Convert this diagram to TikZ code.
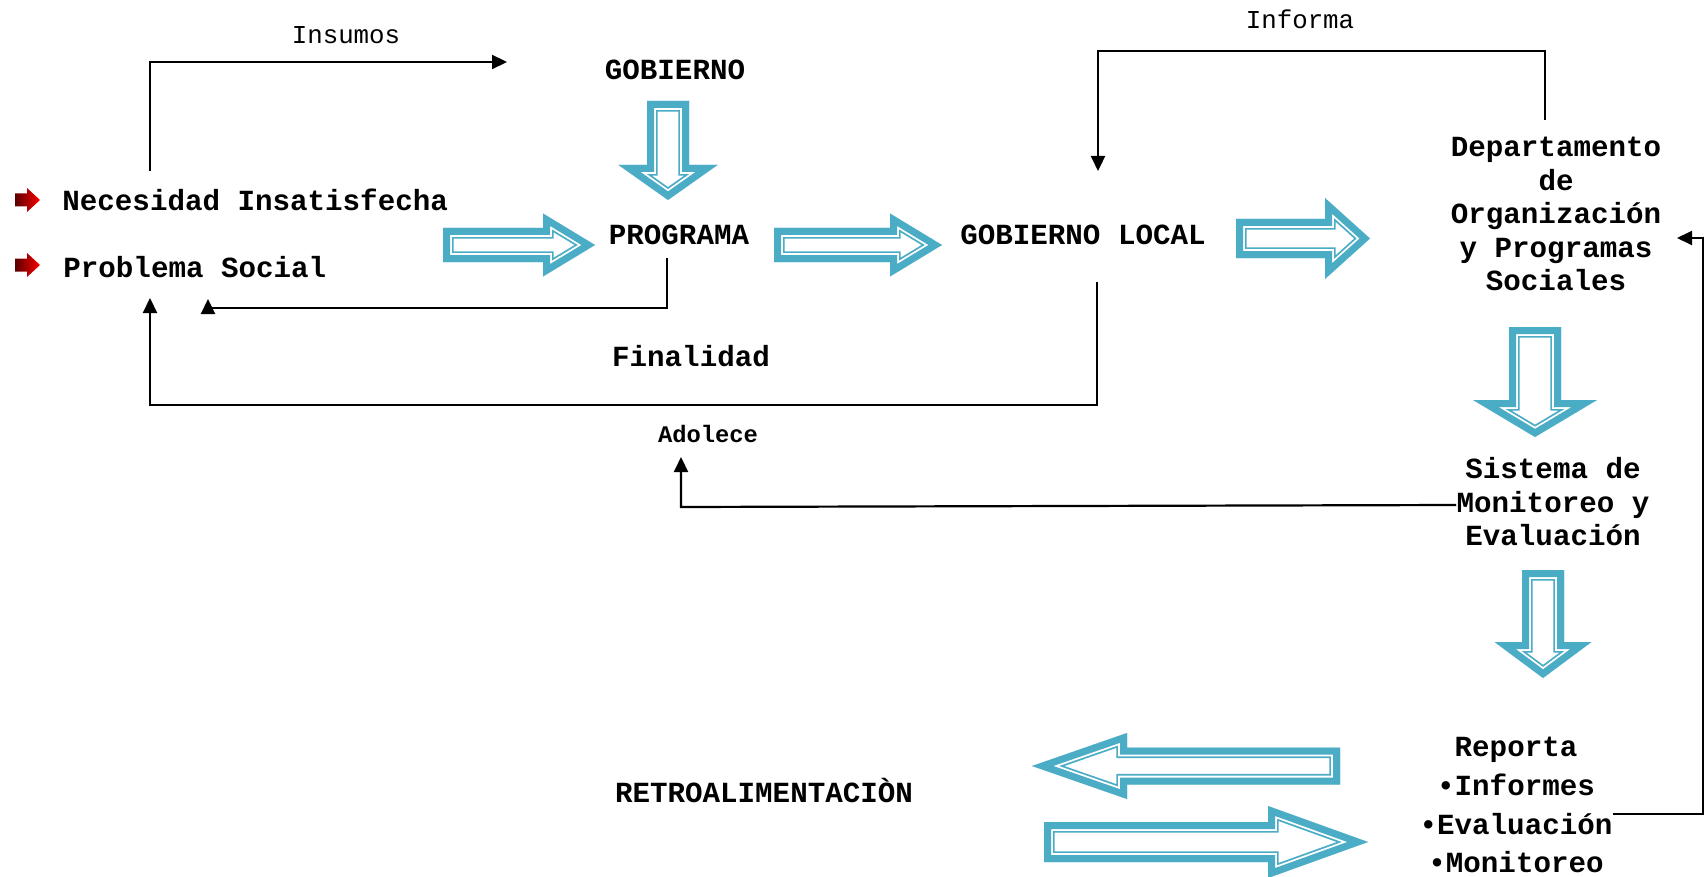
\documentclass[tikz,border=0pt]{standalone}
\usepackage{fontspec}
\setmainfont{Liberation Mono}
\usetikzlibrary{positioning, arrows.meta}
\definecolor{arrowblue}{RGB}{75,172,198}
% hollow block arrow: tail centre, angle, length, body half width, head half width, head length
\newcommand{\blockarrow}[6]{%
  \begin{scope}[shift={#1},rotate=#2]
    \clip (0,-#4) -- (#3-#6,-#4) -- (#3-#6,-#5) -- (#3,0)
      -- (#3-#6,#5) -- (#3-#6,#4) -- (0,#4) -- cycle;
    \fill[white] (-5,-#5-5) rectangle (#3+5,#5+5);
    \foreach \lw/\col in {10.6pt/arrowblue, 8.8pt/white, 7pt/arrowblue}
      \path[draw=\col,line width=\lw] (0,-#4) -- (#3-#6,-#4) -- (#3-#6,-#5) -- (#3,0)
        -- (#3-#6,#5) -- (#3-#6,#4) -- (0,#4) -- cycle;
  \end{scope}}

\begin{document}
\begin{tikzpicture}[x=0.5pt,y=-0.5pt,node distance=4.5pt,
  txt/.style={font=\bfseries\fontsize{14.6}{16.75}\selectfont,inner sep=0pt,text height=11pt,text depth=3.5pt},
  blk/.style={font=\bfseries\fontsize{14.6}{16.75}\selectfont,inner sep=0pt,align=center},
  lbl/.style={font=\fontsize{12.9}{15}\selectfont,inner sep=0pt},
  conn/.style={line width=1.1pt,-{Triangle[length=7.5pt,width=7pt]}}]
   \useasboundingbox (0,0) rectangle (1706,877);
   % red bullets
   \foreach \yy in {200,265}
     \shade[left color=red!35!black,right color=red] (15,\yy-6.5) -- (27,\yy-6.5) -- (27,\yy-12)
       -- (40,\yy) -- (27,\yy+12) -- (27,\yy+6.5) -- (15,\yy+6.5) -- cycle;
   % texts
   \node[txt,anchor=west] (nec)    at (62,203)   {Necesidad Insatisfecha};
   \node[txt,anchor=west] (prob)   at (63,270)   {Problema Social};
   \node[txt]             (gob)    at (675,72)   {GOBIERNO};
   \node[txt]             (prog)   at (679,237)  {PROGRAMA};
   \node[txt]             (gobloc) at (1083,237) {GOBIERNO LOCAL};
   \node[blk]             (dep)    at (1556,214) {Departamento\\de\\Organización\\y Programas\\Sociales};
   \node[txt]             (fin)    at (691,359)  {Finalidad};
   \node[txt,font=\bfseries\fontsize{11.9}{14}\selectfont] (adol) at (708,435) {Adolece};
   \node[blk]             (sis)    at (1553,502) {Sistema de\\Monitoreo y\\Evaluación};
   \node[txt]             (rep)    at (1516,749) {Reporta};
   \node[txt,below=of rep] (inf)   {•Informes};
   \node[txt,below=of inf] (eva)   {•Evaluación};
   \node[txt,below=of eva] (mon)   {•Monitoreo};
   \node[txt]             (retro)  at (764,795)  {RETROALIMENTACIÒN};
   \node[lbl]             (insumos) at (346,35)  {Insumos};
   \node[lbl]             (informa) at (1300,19) {Informa};
   % block arrows
   \blockarrow{(443,245)}{0}{152}{17}{31.5}{52}
   \blockarrow{(774,245)}{0}{168}{17}{31.5}{52}
   \blockarrow{(1236,238.5)}{0}{134}{19.5}{40.5}{45}
   \blockarrow{(668,101)}{-90}{99}{21}{49.5}{35}
   \blockarrow{(1535,327)}{-90}{110}{26}{62}{37}
   \blockarrow{(1543,570)}{-90}{108}{21}{48.5}{36}
   \blockarrow{(1340,766)}{180}{308}{18.5}{33}{95}
   \blockarrow{(1044,842)}{0}{324}{20}{36}{100}
   % connectors
   \coordinate (ins0)  at (150,171);
   \coordinate (ins1)  at (507,62);
   \coordinate (fin0)  at (667,308);
   \coordinate (fin1)  at (208,299);
   \coordinate (adl1)  at (150,298);
   \coordinate (infm1) at (1098,171);
   \coordinate (adolc) at (681,457);
   \coordinate (dep1)  at (1677,238);
   \draw[conn] (ins0) |- (ins1);
   \draw[conn] ([xshift=-6pt,yshift=-3pt]prog.south) -- (fin0) -| (fin1);
   \draw[conn] ([xshift=7pt,yshift=-15pt]gobloc.south) -- (1097,405) -| (adl1);
   \draw[conn] ([xshift=-5.5pt,yshift=8.5pt]dep.north) -- (1545,51) -| (infm1);
   \draw[conn] ([yshift=-1.5pt]sis.west) -- (681,507) -- (adolc);
   \draw[conn] ([yshift=6.5pt]eva.east) -| (1703,238) -- (dep1);
\end{tikzpicture}
\end{document}
